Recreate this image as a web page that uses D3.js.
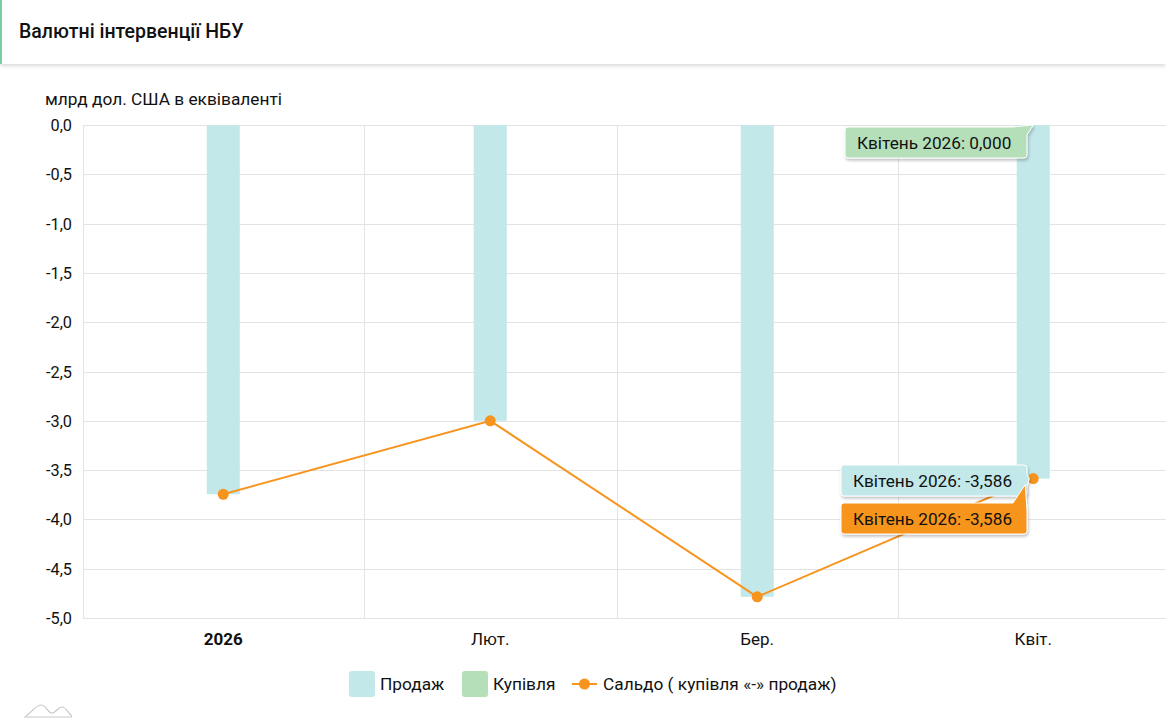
<!DOCTYPE html>
<html lang="uk">
<head>
<meta charset="UTF-8">
<title>Валютні інтервенції НБУ</title>
<script src="https://d3js.org/d3.v7.min.js"></script>
<style>
    body {
        margin: 0;
        background: #fff;
        font-family: Roboto, "Noto Sans", Arial, sans-serif;
        overflow: hidden;
    }
    .header {
        position: absolute;
        left: 0; top: 0;
        width: 1166px; height: 64px;
        border-left: 2px solid #7fcca3;
        box-sizing: border-box;
        box-shadow: 0 2px 4px rgba(0,0,0,0.15);
        background: #fff;
    }
    .header h1 {
        margin: 0;
        position: absolute;
        left: 17px; top: 20px;
        font-size: 19.5px;
        font-weight: 500;
        color: #111;
    }
    #chart {
        position: absolute;
        left: 0; top: 0;
    }
    .grid line { stroke: #e3e3e3; stroke-width: 1px; }
    .ylab text { font-size: 16.3px; fill: #111; }
    .xlab text { font-size: 17px; fill: #111; }
    .legend text { font-size: 17.3px; fill: #111; }
    .tip text { font-size: 17.2px; fill: #111; }
</style>
</head>
<body>
<svg id="chart" width="1166" height="723"></svg>
<div class="header"><h1>Валютні інтервенції НБУ</h1></div>

<script>
    // дані
    const months = ["2026-01-01", "2026-02-01", "2026-03-01", "2026-04-01"];
    const monthLabels = ["2026", "Лют.", "Бер.", "Квіт."];
    const sales = [-3.745, -3.0, -4.785, -3.586];      // Продаж
    const purchases = [0, 0, 0, 0];                    // Купівля
    const balance = [-3.745, -3.0, -4.785, -3.586];    // Сальдо
    const yTicks = [0, -0.5, -1, -1.5, -2, -2.5, -3, -3.5, -4, -4.5, -5];

    const parse = d3.timeParse("%Y-%m-%d");
    const starts = months.map(parse);
    const centers = starts.map(d => {
        const next = d3.timeMonth.offset(d, 1);
        return new Date((+d + +next) / 2);
    });

    const svg = d3.select("#chart");
    const x = d3.scaleTime()
        .domain([parse("2026-01-01"), parse("2026-05-01")])
        .range([83, 1169]);
    const y = d3.scaleLinear().domain([-5, 0]).range([618, 125]);
    const fmt = v => d3.format(".1f")(v).replace(".", ",").replace("−", "-");

    // сітка
    const grid = svg.append("g").attr("class", "grid");
    grid.selectAll(".h").data(yTicks).enter().append("line")
        .attr("x1", 83).attr("x2", 1166)
        .attr("y1", d => Math.round(y(d)) + 0.5).attr("y2", d => Math.round(y(d)) + 0.5);
    grid.selectAll(".v").data([parse("2026-01-01")].concat(starts.slice(1))).enter().append("line")
        .attr("x1", d => Math.round(x(d)) + 0.5).attr("x2", d => Math.round(x(d)) + 0.5)
        .attr("y1", 125).attr("y2", 618);

    // вісь Y
    svg.append("text").attr("x", 45).attr("y", 105)
        .style("font-size", "17.3px").style("fill", "#111")
        .text("млрд дол. США в еквіваленті");
    const yl = svg.append("g").attr("class", "ylab");
    yl.selectAll("text").data(yTicks).enter().append("text")
        .attr("x", 72).attr("y", d => y(d) + 6)
        .attr("text-anchor", "end")
        .text(d => fmt(d));

    // вісь X
    const xl = svg.append("g").attr("class", "xlab");
    xl.selectAll("text").data(monthLabels).enter().append("text")
        .attr("x", (d, i) => x(centers[i]))
        .attr("y", 645)
        .attr("text-anchor", "middle")
        .style("font-weight", (d, i) => i === 0 ? "bold" : "normal")
        .text(d => d);

    // стовпці
    const bw = 33;
    svg.append("g").selectAll("rect").data(sales).enter().append("rect")
        .attr("x", (d, i) => x(centers[i]) - bw / 2)
        .attr("width", bw)
        .attr("y", y(0))
        .attr("height", d => y(d) - y(0))
        .attr("fill", "#c2e8ea");
    svg.append("g").selectAll("rect").data(purchases).enter().append("rect")
        .attr("x", (d, i) => x(centers[i]) - bw / 2)
        .attr("width", bw)
        .attr("y", d => y(Math.max(0, d)))
        .attr("height", d => Math.abs(y(d) - y(0)))
        .attr("fill", "#b5dfb8");

    // лінія сальдо
    const line = d3.line().x((d, i) => x(centers[i])).y(d => y(d));
    svg.append("path").datum(balance)
        .attr("d", line)
        .attr("fill", "none")
        .attr("stroke", "#f7941d")
        .attr("stroke-width", 2);
    svg.append("g").selectAll("circle").data(balance).enter().append("circle")
        .attr("cx", (d, i) => x(centers[i]))
        .attr("cy", d => y(d))
        .attr("r", 5.5)
        .attr("fill", "#f7941d");

    // підказки
    const defs = svg.append("defs");
    const f = defs.append("filter").attr("id", "sh").attr("x", "-20%").attr("y", "-30%").attr("width", "140%").attr("height", "180%");
    f.append("feDropShadow").attr("dx", 1).attr("dy", 2).attr("stdDeviation", 1.5).attr("flood-color", "#000").attr("flood-opacity", 0.25);

    const last = months.length - 1;
    const px = x(centers[last]);
    function tip(x0, y0, w, h, fill, pointer, label) {
        const g = svg.append("g").attr("class", "tip");
        const r = 3;
        const x1 = x0 + w, y1 = y0 + h;
        let p;
        if (pointer.side === "top") {
            p = `M${x0 + r},${y0} L${x1 - 14},${y0} L${pointer.x},${pointer.y} L${x1},${y0 + 8} L${x1},${y1 - r} Q${x1},${y1} ${x1 - r},${y1} L${x0 + r},${y1} Q${x0},${y1} ${x0},${y1 - r} L${x0},${y0 + r} Q${x0},${y0} ${x0 + r},${y0} Z`;
        } else {
            const my = (y0 + y1) / 2;
            p = `M${x0 + r},${y0} L${x1 - r},${y0} Q${x1},${y0} ${x1},${y0 + r} L${x1},${my - 6} L${pointer.x},${pointer.y} L${x1},${my + 6} L${x1},${y1 - r} Q${x1},${y1} ${x1 - r},${y1} L${x0 + r},${y1} Q${x0},${y1} ${x0},${y1 - r} L${x0},${y0 + r} Q${x0},${y0} ${x0 + r},${y0} Z`;
        }
        g.append("path").attr("d", p).attr("fill", fill)
            .attr("stroke", "#fff").attr("stroke-width", 1)
            .attr("filter", "url(#sh)");
        g.append("text").attr("x", x0 + 12).attr("y", y0 + h / 2 + 6).text(label);
    }
    const val3 = v => d3.format(".3f")(v).replace(".", ",").replace("−", "-");
    tip(845, 127, 182, 31, "#b5dfb8", { side: "top", x: px, y: y(purchases[last]) }, "Квітень 2026: " + val3(purchases[last]));
    tip(841, 465, 186, 31, "#c2e8ea", { side: "right", x: px - 4, y: y(sales[last]) }, "Квітень 2026: " + val3(sales[last]));
    tip(841, 503, 186, 31, "#f7941d", { side: "top", x: px - 8, y: y(balance[last]) + 6 }, "Квітень 2026: " + val3(balance[last]));

    // легенда
    const lg = svg.append("g").attr("class", "legend");
    lg.append("rect").attr("x", 349).attr("y", 671).attr("width", 26).attr("height", 26).attr("rx", 3).attr("fill", "#c2e8ea");
    lg.append("text").attr("x", 380).attr("y", 690).text("Продаж");
    lg.append("rect").attr("x", 462).attr("y", 671).attr("width", 26).attr("height", 26).attr("rx", 3).attr("fill", "#b5dfb8");
    lg.append("text").attr("x", 493).attr("y", 690).text("Купівля");
    lg.append("line").attr("x1", 572).attr("x2", 597).attr("y1", 684).attr("y2", 684).attr("stroke", "#f7941d").attr("stroke-width", 2);
    lg.append("circle").attr("cx", 584.5).attr("cy", 684).attr("r", 5.5).attr("fill", "#f7941d");
    lg.append("text").attr("x", 603).attr("y", 690).text("Сальдо ( купівля «-» продаж)");

    // логотип
    svg.append("path")
        .attr("d", "M24,717 L72,717 M26,716 C32,712 36,705 41,705 C46,705 48,713 52,713 C56,713 58,707 62,707 C66,707 68,713 72,716")
        .attr("fill", "none").attr("stroke", "#c8c8c8").attr("stroke-width", 1.2);
</script>
</body>
</html>
